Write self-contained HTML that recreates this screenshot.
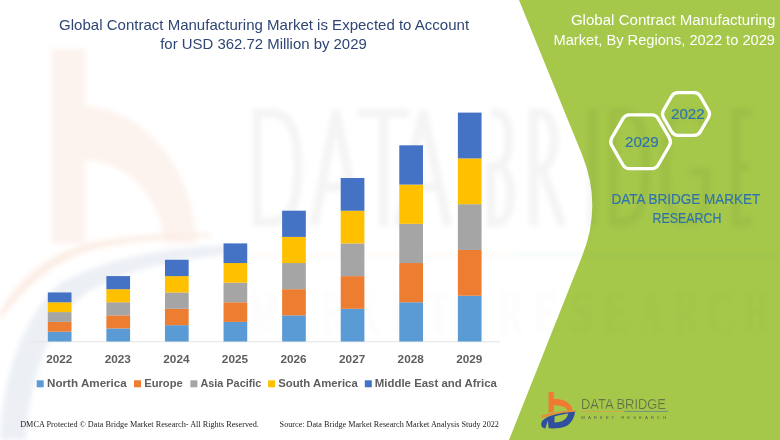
<!DOCTYPE html>
<html><head><meta charset="utf-8">
<style>
html,body{margin:0;padding:0;background:#fff;}
body{width:780px;height:440px;overflow:hidden;position:relative;}
svg{position:absolute;left:0;top:0;}
</style></head><body>
<svg width="780" height="440" viewBox="0 0 780 440">
<path id="green" d="M519,0 L581.8,154 Q602.6,204.8 582.2,256 L509,440 L780,440 L780,0 Z" fill="#A5C84A"/>
<defs><filter id="bl" x="-10%" y="-10%" width="120%" height="120%"><feGaussianBlur stdDeviation="2.5"/></filter></defs>
<g id="wm" filter="url(#bl)">
<path d="M51.4,49 L85.5,49 L85.5,106 C145,110 192,165 197,243.6 L165,243.6 C160,198 130,163 85.5,160 L85.5,243.6 L51.4,243.6 Z" fill="#FDF3EE"/>
<path d="M0,440 C2,380 20,320 60,283 C110,255 180,246 235,245 L220,256 C185,258 120,270 82,296 C48,325 30,380 26,440 Z" fill="#ECF0F5"/>
<path d="M0,312 C18,280 45,255 90,243 C130,235 170,233 210,233 L210,237 C168,238 130,241 95,249 C55,260 25,287 0,320 Z" fill="#FCEEE5"/>
<g fill="none" stroke="#000" stroke-opacity="0.045" stroke-width="9" transform="translate(0,2)">
<path d="M257,111 L270,111 C295,111 298,140 298,165.5 C298,191 295,220 270,220 L257,220 Z"/>
<path d="M314,224 L336,109 L358,224 M322,185 L350,185"/>
<path d="M358,111 L409,111 M383.5,111 L383.5,224"/>
<path d="M398,224 L423,109 L448,224 M406,185 L440,185"/>
<path d="M491,111 L497,111 C513,111 513,164 497,164 L491,164 M491,164 L497,164 C515,164 515,221 497,221 L491,221 Z"/>
<path d="M533.5,224 L533.5,111 L540,111 C559,111 559,166 540,166 L533.5,166 M542,166 L562.5,224"/>
<path d="M592.5,107 L592.5,224"/>
<path d="M613.3,111 L622,111 C643,111 646,140 646,165.5 C646,191 643,220 622,220 L613.3,220 Z"/>
<path d="M706,125 C700,112 693,111 686,111 C668,111 665,140 665,165.5 C665,195 670,220 686,220 C700,220 706,210 706,195 L706,170 L690,170"/>
<path d="M752,111 L735.8,111 L735.8,220 L752,220 M735.8,165 L749,165"/>
</g>
<rect x="249" y="254" width="260" height="2" fill="#F08A3A" fill-opacity="0.08"/>
<rect x="509" y="254" width="271" height="2" fill="#4A7AB0" fill-opacity="0.08"/>
<text x="251" y="332" font-family="Liberation Serif" font-size="60" fill="#000" fill-opacity="0.02" textLength="24" lengthAdjust="spacingAndGlyphs">M</text><text x="286" y="332" font-family="Liberation Serif" font-size="60" fill="#000" fill-opacity="0.02" textLength="24" lengthAdjust="spacingAndGlyphs">A</text><text x="321" y="332" font-family="Liberation Serif" font-size="60" fill="#000" fill-opacity="0.02" textLength="24" lengthAdjust="spacingAndGlyphs">R</text><text x="356" y="332" font-family="Liberation Serif" font-size="60" fill="#000" fill-opacity="0.02" textLength="24" lengthAdjust="spacingAndGlyphs">K</text><text x="391" y="332" font-family="Liberation Serif" font-size="60" fill="#000" fill-opacity="0.02" textLength="24" lengthAdjust="spacingAndGlyphs">E</text><text x="426" y="332" font-family="Liberation Serif" font-size="60" fill="#000" fill-opacity="0.02" textLength="24" lengthAdjust="spacingAndGlyphs">T</text><text x="499" y="332" font-family="Liberation Serif" font-size="60" fill="#000" fill-opacity="0.02" textLength="24" lengthAdjust="spacingAndGlyphs">R</text><text x="534" y="332" font-family="Liberation Serif" font-size="60" fill="#000" fill-opacity="0.02" textLength="24" lengthAdjust="spacingAndGlyphs">E</text><text x="569" y="332" font-family="Liberation Serif" font-size="60" fill="#000" fill-opacity="0.02" textLength="24" lengthAdjust="spacingAndGlyphs">S</text><text x="604" y="332" font-family="Liberation Serif" font-size="60" fill="#000" fill-opacity="0.02" textLength="24" lengthAdjust="spacingAndGlyphs">E</text><text x="639" y="332" font-family="Liberation Serif" font-size="60" fill="#000" fill-opacity="0.02" textLength="24" lengthAdjust="spacingAndGlyphs">A</text><text x="674" y="332" font-family="Liberation Serif" font-size="60" fill="#000" fill-opacity="0.02" textLength="24" lengthAdjust="spacingAndGlyphs">R</text><text x="709" y="332" font-family="Liberation Serif" font-size="60" fill="#000" fill-opacity="0.02" textLength="24" lengthAdjust="spacingAndGlyphs">C</text><text x="744" y="332" font-family="Liberation Serif" font-size="60" fill="#000" fill-opacity="0.02" textLength="24" lengthAdjust="spacingAndGlyphs">H</text>
</g>
<line x1="30" y1="341.8" x2="500" y2="341.8" stroke="#E3E3E3" stroke-width="1"/>
<g><rect x="47.80" y="331.69" width="23.7" height="9.84" fill="#5B9BD5"/><rect x="47.80" y="321.88" width="23.7" height="9.84" fill="#ED7D31"/><rect x="47.80" y="312.07" width="23.7" height="9.84" fill="#A5A5A5"/><rect x="47.80" y="302.26" width="23.7" height="9.84" fill="#FFC000"/><rect x="47.80" y="292.45" width="23.7" height="9.84" fill="#4472C4"/><rect x="106.38" y="328.42" width="23.7" height="13.11" fill="#5B9BD5"/><rect x="106.38" y="315.34" width="23.7" height="13.11" fill="#ED7D31"/><rect x="106.38" y="302.26" width="23.7" height="13.11" fill="#A5A5A5"/><rect x="106.38" y="289.18" width="23.7" height="13.11" fill="#FFC000"/><rect x="106.38" y="276.10" width="23.7" height="13.11" fill="#4472C4"/><rect x="164.96" y="325.15" width="23.7" height="16.38" fill="#5B9BD5"/><rect x="164.96" y="308.80" width="23.7" height="16.38" fill="#ED7D31"/><rect x="164.96" y="292.45" width="23.7" height="16.38" fill="#A5A5A5"/><rect x="164.96" y="276.10" width="23.7" height="16.38" fill="#FFC000"/><rect x="164.96" y="259.75" width="23.7" height="16.38" fill="#4472C4"/><rect x="223.54" y="321.88" width="23.7" height="19.65" fill="#5B9BD5"/><rect x="223.54" y="302.26" width="23.7" height="19.65" fill="#ED7D31"/><rect x="223.54" y="282.64" width="23.7" height="19.65" fill="#A5A5A5"/><rect x="223.54" y="263.02" width="23.7" height="19.65" fill="#FFC000"/><rect x="223.54" y="243.40" width="23.7" height="19.65" fill="#4472C4"/><rect x="282.12" y="315.34" width="23.7" height="26.19" fill="#5B9BD5"/><rect x="282.12" y="289.18" width="23.7" height="26.19" fill="#ED7D31"/><rect x="282.12" y="263.02" width="23.7" height="26.19" fill="#A5A5A5"/><rect x="282.12" y="236.86" width="23.7" height="26.19" fill="#FFC000"/><rect x="282.12" y="210.70" width="23.7" height="26.19" fill="#4472C4"/><rect x="340.70" y="308.80" width="23.7" height="32.73" fill="#5B9BD5"/><rect x="340.70" y="276.10" width="23.7" height="32.73" fill="#ED7D31"/><rect x="340.70" y="243.40" width="23.7" height="32.73" fill="#A5A5A5"/><rect x="340.70" y="210.70" width="23.7" height="32.73" fill="#FFC000"/><rect x="340.70" y="178.00" width="23.7" height="32.73" fill="#4472C4"/><rect x="399.28" y="302.26" width="23.7" height="39.27" fill="#5B9BD5"/><rect x="399.28" y="263.02" width="23.7" height="39.27" fill="#ED7D31"/><rect x="399.28" y="223.78" width="23.7" height="39.27" fill="#A5A5A5"/><rect x="399.28" y="184.54" width="23.7" height="39.27" fill="#FFC000"/><rect x="399.28" y="145.30" width="23.7" height="39.27" fill="#4472C4"/><rect x="457.86" y="295.72" width="23.7" height="45.81" fill="#5B9BD5"/><rect x="457.86" y="249.94" width="23.7" height="45.81" fill="#ED7D31"/><rect x="457.86" y="204.16" width="23.7" height="45.81" fill="#A5A5A5"/><rect x="457.86" y="158.38" width="23.7" height="45.81" fill="#FFC000"/><rect x="457.86" y="112.60" width="23.7" height="45.81" fill="#4472C4"/></g>
<g font-family="Liberation Sans" font-weight="bold" font-size="11.6" fill="#5E5E5E"><text x="59.25" y="362.5" text-anchor="middle" textLength="26.2" lengthAdjust="spacingAndGlyphs">2022</text><text x="117.83" y="362.5" text-anchor="middle" textLength="26.2" lengthAdjust="spacingAndGlyphs">2023</text><text x="176.41" y="362.5" text-anchor="middle" textLength="26.2" lengthAdjust="spacingAndGlyphs">2024</text><text x="234.99" y="362.5" text-anchor="middle" textLength="26.2" lengthAdjust="spacingAndGlyphs">2025</text><text x="293.57" y="362.5" text-anchor="middle" textLength="26.2" lengthAdjust="spacingAndGlyphs">2026</text><text x="352.15" y="362.5" text-anchor="middle" textLength="26.2" lengthAdjust="spacingAndGlyphs">2027</text><text x="410.73" y="362.5" text-anchor="middle" textLength="26.2" lengthAdjust="spacingAndGlyphs">2028</text><text x="469.31" y="362.5" text-anchor="middle" textLength="26.2" lengthAdjust="spacingAndGlyphs">2029</text></g>
<g><rect x="36.7" y="380.3" width="7" height="7" fill="#5B9BD5"/><rect x="134" y="380.3" width="7" height="7" fill="#ED7D31"/><rect x="190.4" y="380.3" width="7" height="7" fill="#A5A5A5"/><rect x="268.1" y="380.3" width="7" height="7" fill="#FFC000"/><rect x="364.8" y="380.3" width="7" height="7" fill="#4472C4"/></g>
<path d="M708.50,110.36 Q710.60,114.00 708.50,117.64 L700.40,131.67 Q698.30,135.30 694.10,135.30 L677.90,135.30 Q673.70,135.30 671.60,131.67 L663.50,117.64 Q661.40,114.00 663.50,110.36 L671.60,96.33 Q673.70,92.70 677.90,92.70 L694.10,92.70 Q698.30,92.70 700.40,96.33 Z" fill="none" stroke="#fff" stroke-width="3.2"/>
<path d="M669.35,137.90 Q671.60,141.80 669.35,145.70 L658.35,164.75 Q656.10,168.65 651.60,168.65 L629.60,168.65 Q625.10,168.65 622.85,164.75 L611.85,145.70 Q609.60,141.80 611.85,137.90 L622.85,118.85 Q625.10,114.95 629.60,114.95 L651.60,114.95 Q656.10,114.95 658.35,118.85 Z" fill="none" stroke="#fff" stroke-width="3.3"/>
<text id="title1" x="59.10" y="29.9" font-family="Liberation Sans" font-size="15" font-weight="normal" fill="#2F4675" textLength="410.00" lengthAdjust="spacingAndGlyphs">Global Contract Manufacturing Market is Expected to Account</text>
<text id="title2" x="160.20" y="49.1" font-family="Liberation Sans" font-size="15" font-weight="normal" fill="#2F4675" textLength="206.60" lengthAdjust="spacingAndGlyphs">for USD 362.72 Million by 2029</text>
<text id="rt1" x="570.90" y="25.4" font-family="Liberation Sans" font-size="14" font-weight="normal" fill="#FFFFFF" textLength="204.40" lengthAdjust="spacingAndGlyphs">Global Contract Manufacturing</text>
<text id="rt2" x="553.50" y="44.9" font-family="Liberation Sans" font-size="14" font-weight="normal" fill="#FFFFFF" textLength="221.50" lengthAdjust="spacingAndGlyphs">Market, By Regions, 2022 to 2029</text>
<text id="h22" x="671.00" y="119" font-family="Liberation Sans" font-size="14" font-weight="normal" fill="#3073AC" stroke="#3073AC" stroke-width="0.15" textLength="33.60" lengthAdjust="spacingAndGlyphs">2022</text>
<text id="h29" x="625.00" y="146.8" font-family="Liberation Sans" font-size="14" font-weight="normal" fill="#3073AC" stroke="#3073AC" stroke-width="0.15" textLength="33.70" lengthAdjust="spacingAndGlyphs">2029</text>
<text id="dbm1" x="611.40" y="203.9" font-family="Liberation Sans" font-size="13.8" font-weight="normal" fill="#3073AC" stroke="#3073AC" stroke-width="0.15" textLength="148.90" lengthAdjust="spacingAndGlyphs">DATA BRIDGE MARKET</text>
<text id="dbm2" x="652.60" y="223.4" font-family="Liberation Sans" font-size="13.8" font-weight="normal" fill="#3073AC" stroke="#3073AC" stroke-width="0.15" textLength="68.80" lengthAdjust="spacingAndGlyphs">RESEARCH</text>
<text id="lg1" x="47.10" y="387.3" font-family="Liberation Sans" font-size="11.5" font-weight="bold" fill="#5E5E5E" textLength="79.70" lengthAdjust="spacingAndGlyphs">North America</text>
<text id="lg2" x="144.20" y="387.3" font-family="Liberation Sans" font-size="11.5" font-weight="bold" fill="#5E5E5E" textLength="38.50" lengthAdjust="spacingAndGlyphs">Europe</text>
<text id="lg3" x="200.40" y="387.3" font-family="Liberation Sans" font-size="11.5" font-weight="bold" fill="#5E5E5E" textLength="61.00" lengthAdjust="spacingAndGlyphs">Asia Pacific</text>
<text id="lg4" x="278.20" y="387.3" font-family="Liberation Sans" font-size="11.5" font-weight="bold" fill="#5E5E5E" textLength="79.50" lengthAdjust="spacingAndGlyphs">South America</text>
<text id="lg5" x="374.80" y="387.3" font-family="Liberation Sans" font-size="11.5" font-weight="bold" fill="#5E5E5E" textLength="122.10" lengthAdjust="spacingAndGlyphs">Middle East and Africa</text>
<text id="foot1" x="20.20" y="426.7" font-family="Liberation Serif" font-size="8" font-weight="normal" fill="#222222" textLength="238.70" lengthAdjust="spacingAndGlyphs">DMCA Protected © Data Bridge Market Research- All Rights Reserved.</text>
<text id="foot2" x="279.60" y="426.7" font-family="Liberation Serif" font-size="8" font-weight="normal" fill="#222222" textLength="219.30" lengthAdjust="spacingAndGlyphs">Source: Data Bridge Market Research Market Analysis Study 2022</text>
<g id="logo">
<path d="M548.6,392.1 L553.7,392.1 L553.7,398.8 C562,398.6 571.5,402 572.8,411 L568,411.2 C567,407.5 562,405.2 553.7,405.2 L553.7,412 L548.6,412.5 Z" fill="#F07A32"/>
<path d="M541.2,415.6 Q554,410.9 576,410.3 L576,411.9 Q555,412.6 541.4,418.4 Z" fill="#E58F3C"/>
<path d="M541.4,422.8 C543.5,417.5 553,413.3 575,411.8 C574.5,418 571,423.5 566.5,426 C561,428.4 554,428.6 548.7,428.3 L547.8,420.4 L545.3,428.4 C542,428.3 540.6,425.5 541.4,422.8 Z" fill="#2F4E9C"/>
<path d="M554.5,416.6 C559,415.2 564,414.2 568.2,413.6 C567.3,418.5 563,422.6 554.5,422.6 Z" fill="#A5C84A"/>
</g>
<text x="581" y="408.6" font-family="Liberation Sans" font-size="14.4" fill="#4B5347" stroke="#A5C84A" stroke-width="0.45" textLength="85" lengthAdjust="spacingAndGlyphs">DATA BRIDGE</text>
<rect x="581.5" y="410.9" width="43" height="0.9" fill="#D9A64E"/>
<rect x="624.5" y="410.9" width="43.2" height="0.9" fill="#6A8C88"/>
<text x="581.3" y="418.6" font-family="Liberation Sans" font-size="4.4" fill="#5A6352" textLength="84.8" lengthAdjust="spacing">MARKET  RESEARCH</text>

</svg>
</body></html>
